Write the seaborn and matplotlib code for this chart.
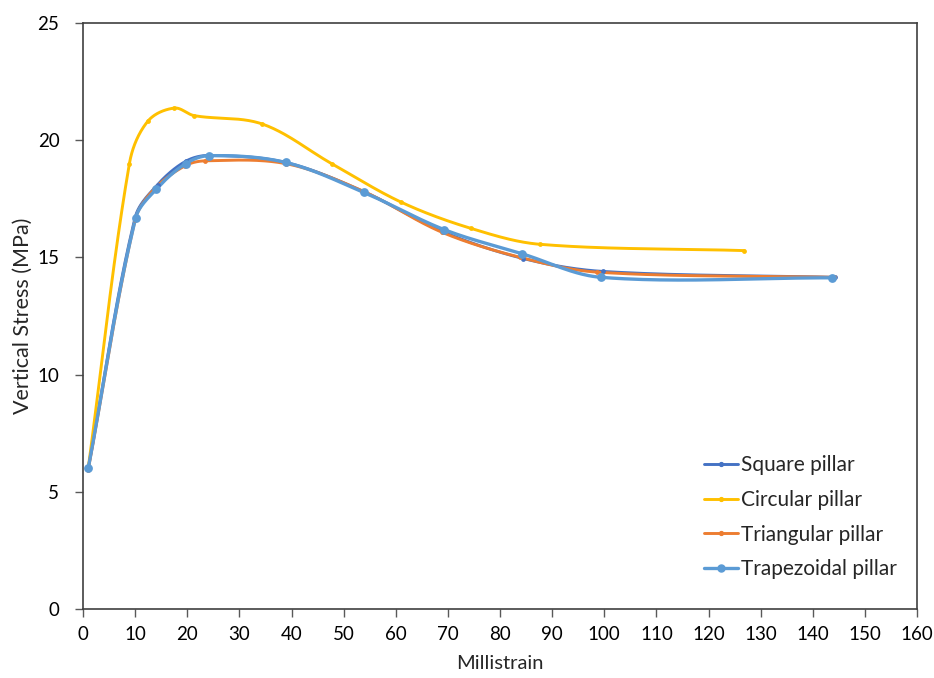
import numpy as np
import pandas as pd
import matplotlib
matplotlib.use("Agg")
import matplotlib.pyplot as plt
from matplotlib.lines import Line2D
import seaborn as sns

# Stress-strain readings for each pillar shape
square_x = [1, 10, 14.3, 19.7, 24.2, 38.9, 53.9, 69, 84.5, 99.8, 144.2]
square_y = [6.0, 16.7, 18.1, 19.1, 19.35, 19.05, 17.8, 16.1, 14.95, 14.4, 14.15]

circular_x = [1, 8.9, 12.4, 17.5, 21.3, 34.4, 47.7, 61.1, 74.4, 87.6, 126.9]
circular_y = [6.0, 19.0, 20.8, 21.37, 21.05, 20.69, 19.0, 17.35, 16.24, 15.56, 15.29]

triangular_x = [1, 10, 13.6, 19.5, 23.5, 38.9, 53.6, 68.9, 83.9, 98.7, 144.0]
triangular_y = [5.95, 16.6, 17.9, 18.9, 19.12, 19.0, 17.84, 16.07, 15.0, 14.37, 14.15]

trapezoidal_x = [1, 10.1, 14.1, 19.7, 24.2, 38.9, 53.9, 69.35, 84.3, 99.4, 143.7]
trapezoidal_y = [6.0, 16.68, 17.92, 19.0, 19.34, 19.05, 17.77, 16.18, 15.15, 14.15, 14.13]

series_names = ["Square pillar", "Circular pillar", "Triangular pillar", "Trapezoidal pillar"]
series_colors = ["#4472C4", "#FFC000", "#ED7D31", "#5B9BD5"]

x_ticks = list(range(0, 161, 10))
y_ticks = list(range(0, 26, 5))

# screen aspect of one data unit on each axis (used to shape the curves)
X_SCALE, Y_SCALE = 5.21, 23.45


def smooth_path(xs, ys, steps=40, tension=1.0):
    """Smooth cubic Bezier path through the points."""
    p = np.column_stack([np.asarray(xs) * X_SCALE, np.asarray(ys) * Y_SCALE])
    n = len(p)
    dirs = []
    for i in range(n):
        a = p[i - 1] if i > 0 else p[i]
        b = p[i + 1] if i + 1 < n else p[i]
        d = b - a
        dirs.append(d / np.linalg.norm(d))
    out = [p[0]]
    t = np.linspace(0, 1, steps)[1:, None]
    for i in range(n - 1):
        p1, p2 = p[i], p[i + 1]
        L = np.linalg.norm(p2 - p1) / 3.0 * tension
        c1 = p1 + dirs[i] * L
        c2 = p2 - dirs[i + 1] * L
        seg = ((1 - t) ** 3) * p1 + 3 * ((1 - t) ** 2) * t * c1 + 3 * (1 - t) * t ** 2 * c2 + t ** 3 * p2
        out.extend(seg)
    out = np.array(out)
    return out[:, 0] / X_SCALE, out[:, 1] / Y_SCALE


sns.set_theme(style="white")
plt.rcParams["font.family"] = ["Lato", "DejaVu Sans"]

fig = plt.figure(figsize=(9.34, 6.78), dpi=100)
ax = fig.add_axes([83 / 934, 1 - 609 / 678, (917 - 83) / 934, (609 - 23) / 678])

data = [
    (square_x, square_y),
    (circular_x, circular_y),
    (triangular_x, triangular_y),
    (trapezoidal_x, trapezoidal_y),
]
line_w = [2.1, 2.1, 2.1, 2.4]
marker_s = [12, 12, 12, 40]

handles = []
for (xs, ys), name, col, lw, ms in zip(data, series_names, series_colors, line_w, marker_s):
    sx, sy = smooth_path(xs, ys)
    curve = pd.DataFrame({"x": sx, "y": sy})
    sns.lineplot(data=curve, x="x", y="y", ax=ax, color=col, linewidth=lw,
                 sort=False, estimator=None)
    pts = pd.DataFrame({"x": xs, "y": ys})
    sns.scatterplot(data=pts, x="x", y="y", ax=ax, color=col, s=ms,
                    edgecolor=col, linewidth=0, zorder=3)
    handles.append(Line2D([0], [0], color=col, linewidth=lw, marker="o",
                          markersize=np.sqrt(ms) * 0.8, label=name))

ax.set_xlim(0, 160)
ax.set_ylim(0, 25)
ax.set_xticks(x_ticks)
ax.set_yticks(y_ticks)
ax.tick_params(axis="x", which="major", direction="out", length=6, width=1,
               color="#595959", labelsize=13.5, labelcolor="black", pad=6,
               bottom=True)
ax.tick_params(axis="y", which="major", direction="out", length=6, width=1,
               color="#595959", labelsize=13.5, labelcolor="black", pad=11,
               left=True)
for sp in ax.spines.values():
    sp.set_color("#404040")
    sp.set_linewidth(1.2)

ax.set_xlabel("Millistrain", fontsize=14.5, labelpad=9)
ax.set_ylabel("Vertical Stress (MPa)", fontsize=15.5, labelpad=3)

ax.legend(handles=handles, loc="upper left", bbox_to_anchor=(0.745, 0.262),
          frameon=False, fontsize=15, handlelength=1.6, handletextpad=0.15,
          labelspacing=0.7, borderaxespad=0, borderpad=0)

fig.savefig("out.png", dpi=100)
